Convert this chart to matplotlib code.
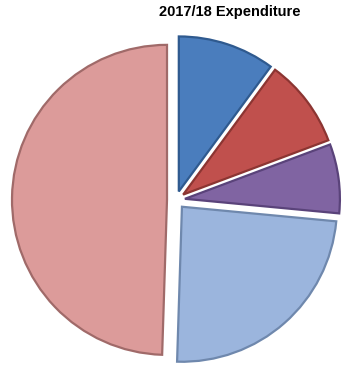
import matplotlib
matplotlib.use("Agg")
import matplotlib.pyplot as plt

categories = ["Category 1", "Category 2", "Category 3", "Category 4", "Category 5"]
values = [10.1, 9.2, 7.2, 24.0, 49.5]
colors = ["#4a7dbd", "#c0504d", "#8064a2", "#9bb5dd", "#dc9b9a"]
edges = ["#2f5a8f", "#8c3532", "#5a437a", "#6f88ad", "#a06a69"]
title = "2017/18 Expenditure"

W, H = 342, 371
fig = plt.figure(figsize=(W / 100, H / 100), dpi=100)
ax = fig.add_axes([0, 0, 1, 1])

r_px = 155.0
cx, cy = 176.0, 371 - 200.0

wedges, _ = ax.pie(values, colors=colors, startangle=90, counterclock=False,
                   explode=[0.058] * len(values), radius=1.0,
                   wedgeprops=dict(linewidth=1.6), frame=True)
for w, e in zip(wedges, edges):
    w.set_edgecolor(e)
ax.set_xlim(-cx / r_px, (W - cx) / r_px)
ax.set_ylim(-cy / r_px, (H - cy) / r_px)
ax.set_aspect("equal")
ax.axis("off")

fig.text(230 / W, 1 - 12 / H, title, ha="center", va="center",
         fontsize=10.5, fontweight="bold", family="Liberation Sans")

fig.savefig("out.png", dpi=100)
